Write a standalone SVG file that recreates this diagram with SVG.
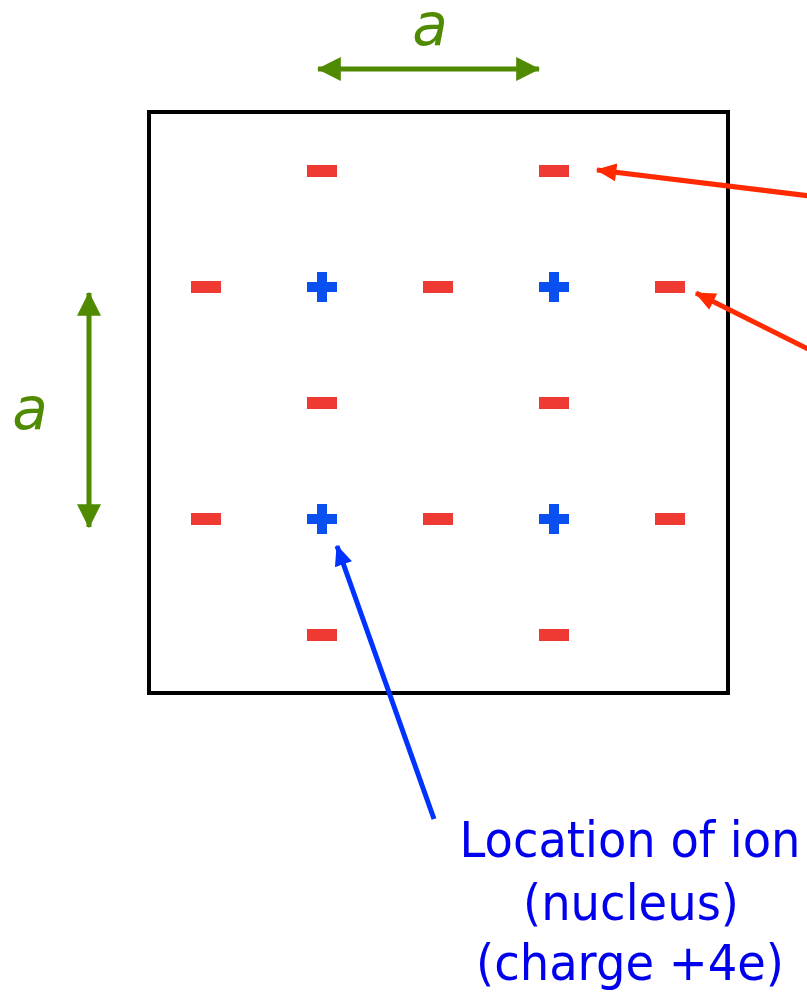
<svg xmlns="http://www.w3.org/2000/svg" width="807" height="995" viewBox="0 0 807 995">
<style>
.m{fill:#ef3a34}
.p{fill:#0a4ff0}
.dim{font-family:"DejaVu Sans",Verdana,sans-serif;font-style:italic;font-size:58px;fill:#4f8a00}
.lbl{font-family:"DejaVu Sans",Tahoma,sans-serif;font-size:50px;fill:#0000ee;text-anchor:middle}
</style>
<defs>
<marker id="ag" viewBox="0 0 20 20" refX="19" refY="10" markerWidth="24" markerHeight="24" markerUnits="userSpaceOnUse" orient="auto-start-reverse"><path d="M0,0 L20,10 L0,20 Z" fill="#4f8a00"/></marker>
<marker id="ar" viewBox="0 0 16 14" refX="15" refY="7" markerWidth="21" markerHeight="18" markerUnits="userSpaceOnUse" orient="auto"><path d="M0,0 L16,7 L0,14 Z" fill="#ff2a00"/></marker>
<marker id="ab" viewBox="0 0 16 14" refX="15" refY="7" markerWidth="21" markerHeight="18" markerUnits="userSpaceOnUse" orient="auto"><path d="M0,0 L16,7 L0,14 Z" fill="#0033ff"/></marker>
<symbol id="minus" overflow="visible"><rect x="-15" y="-6" width="30" height="12" class="m"/></symbol>
<symbol id="plus" overflow="visible"><rect x="-15" y="-5" width="30" height="10" class="p"/><rect x="-5" y="-15" width="10" height="30" class="p"/></symbol>
</defs>
<rect width="807" height="995" fill="#fff"/>
<g id="cell"><rect x="149" y="112" width="579" height="581" fill="none" stroke="#000" stroke-width="4"/></g>
<g id="charges">
<use href="#minus" x="322" y="171"/><use href="#minus" x="554" y="171"/>
<use href="#minus" x="206" y="287"/><use href="#plus" x="322" y="287"/><use href="#minus" x="438" y="287"/><use href="#plus" x="554" y="287"/><use href="#minus" x="670" y="287"/>
<use href="#minus" x="322" y="403"/><use href="#minus" x="554" y="403"/>
<use href="#minus" x="206" y="519"/><use href="#plus" x="322" y="519"/><use href="#minus" x="438" y="519"/><use href="#plus" x="554" y="519"/><use href="#minus" x="670" y="519"/>
<use href="#minus" x="322" y="635"/><use href="#minus" x="554" y="635"/>
</g>
<g id="connectors">
<line x1="318" y1="69" x2="539" y2="69" stroke="#4f8a00" stroke-width="5" marker-start="url(#ag)" marker-end="url(#ag)"/>
<line x1="89" y1="293" x2="89" y2="527" stroke="#4f8a00" stroke-width="5" marker-start="url(#ag)" marker-end="url(#ag)"/>
<line x1="810" y1="196" x2="597" y2="170" stroke="#ff2a00" stroke-width="5" marker-end="url(#ar)"/>
<line x1="810" y1="350" x2="696" y2="293" stroke="#ff2a00" stroke-width="5" marker-end="url(#ar)"/>
<line x1="434" y1="819" x2="337" y2="546" stroke="#0033ff" stroke-width="5" marker-end="url(#ab)"/>
</g>
<g id="labels">
<text class="dim" x="430" y="45" text-anchor="middle">a</text>
<text class="dim" x="30" y="429" text-anchor="middle">a</text>
<text class="lbl" x="630" y="857" textLength="341" lengthAdjust="spacingAndGlyphs">Location of ion</text>
<text class="lbl" x="631" y="920" textLength="216" lengthAdjust="spacingAndGlyphs">(nucleus)</text>
<text class="lbl" x="630" y="980" textLength="308" lengthAdjust="spacingAndGlyphs">(charge +4e)</text>
</g>
</svg>
